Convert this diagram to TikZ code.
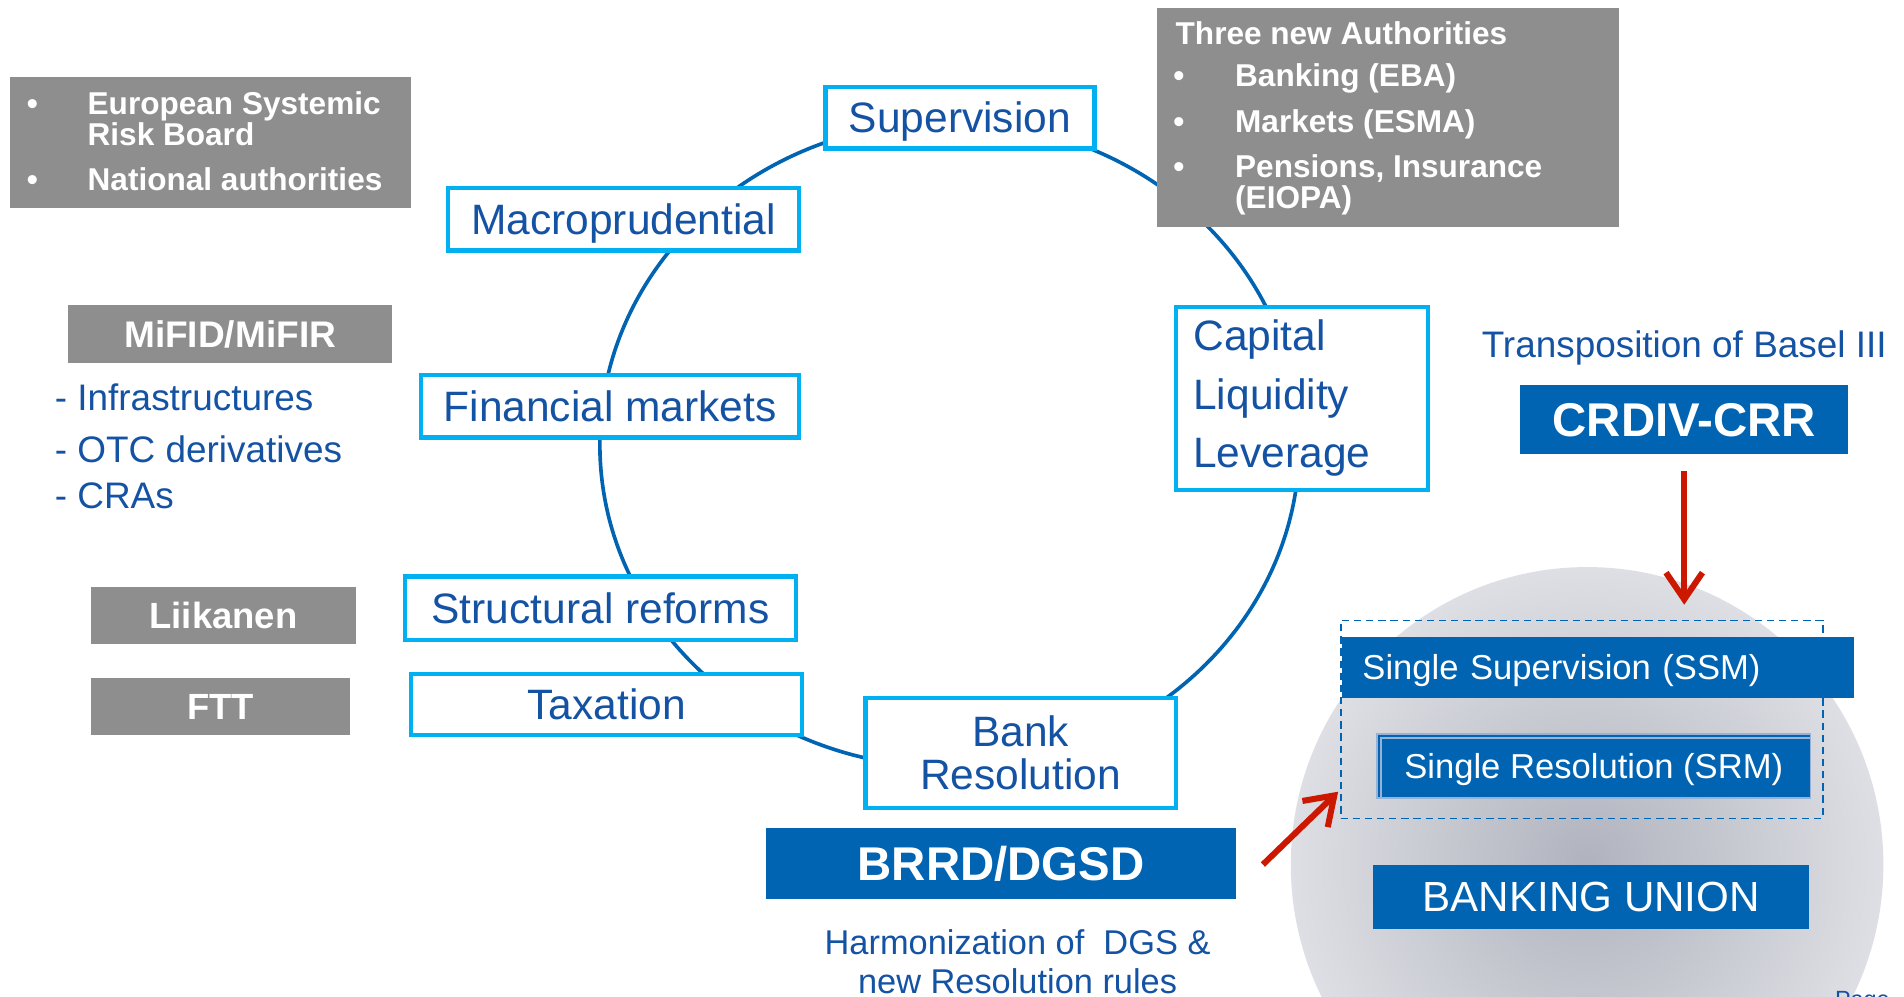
\documentclass[tikz,border=0pt]{standalone}
\usepackage{fontspec}
\setmainfont{Liberation Sans}
\usetikzlibrary{arrows.meta}
\definecolor{cyanb}{RGB}{0,176,240}
\definecolor{txtblue}{RGB}{20,82,163}
\definecolor{darkb}{RGB}{0,100,178}
\definecolor{greyb}{RGB}{142,142,142}
\definecolor{redarr}{RGB}{204,24,0}
\definecolor{buin}{RGB}{176,179,190}
\definecolor{buout}{RGB}{222,223,228}
\definecolor{srmedge}{RGB}{150,178,215}
\begin{document}
\begin{tikzpicture}[x=1pt,y=-1pt,
  cbox/.style={draw=cyanb, line width=3.5pt, fill=white, text=txtblue, inner sep=0pt, font=\fontsize{35}{40}\selectfont},
  capc/.style={text height=#1, text depth=0pt},
  dbox/.style={fill=darkb, text=white, inner sep=0pt},
  gbox/.style={fill=greyb, text=white, inner sep=0pt},
  gtxt/.style={text=white, font=\bfseries\fontsize{26}{28}\selectfont, inner sep=0pt, anchor=base west},
  btxt/.style={text=txtblue, inner sep=0pt},
  redarrow/.style={draw=redarr, line width=5pt, -{Straight Barb[length=22pt,width=30pt]}}
]
\fill[white] (0,0) rectangle (1568,821);
\useasboundingbox (0,0) rectangle (1568,821);

% banking union disc
\shade[inner color=buin, outer color=buout] (1307,712) ellipse [x radius=244, y radius=245];

% main cycle
\draw[darkb, line width=3pt] (782,366) ellipse [x radius=288, y radius=266];

% grey info boxes
\node[gbox, minimum width=330, minimum height=108, anchor=north west] (esrb) at (8,63) {};
\node[gtxt] (esrbb1) at (22,94) {•};
\node[gtxt] (esrb1) at (72,94) {European Systemic};
\node[gtxt] (esrb2) at (72,120) {Risk Board};
\node[gtxt] (esrbb2) at (22,157) {•};
\node[gtxt] (esrb3) at (72,157) {National authorities};

\node[gbox, minimum width=380, minimum height=181, anchor=north west] (three) at (953,6) {};
\node[gtxt] (three0) at (968,37) {Three new Authorities};
\node[gtxt] (threeb1) at (966,71) {•};
\node[gtxt] (three1) at (1017,71) {Banking (EBA)};
\node[gtxt] (threeb2) at (966,109) {•};
\node[gtxt] (three2) at (1017,109) {Markets (ESMA)};
\node[gtxt] (threeb3) at (966,146) {•};
\node[gtxt] (three3) at (1017,146) {Pensions, Insurance};
\node[gtxt] (three4) at (1017,172) {(EIOPA)};

\node[gbox, capc=22pt, minimum width=267, minimum height=48, font=\bfseries\fontsize{30.5}{32}\selectfont] (mifid) at (189.5,275) {MiFID/MiFIR};
\node[btxt, anchor=base west, font=\fontsize{30.4}{32}\selectfont] (l1) at (45,338) {- Infrastructures};
\node[btxt, anchor=base west, font=\fontsize{30.4}{32}\selectfont] (l2) at (45,381) {- OTC derivatives};
\node[btxt, anchor=base west, font=\fontsize{30.4}{32}\selectfont] (l3) at (45,419) {- CRAs};
\node[gbox, capc=21.5pt, minimum width=218, minimum height=47, font=\bfseries\fontsize{30}{32}\selectfont] (liik) at (184,506.5) {Liikanen};
\node[gbox, capc=21.5pt, minimum width=213, minimum height=47, font=\bfseries\fontsize{30}{32}\selectfont] (ftt) at (181.5,581.5) {FTT};

% cycle boxes
\node[cbox, capc=25pt, minimum width=221.5, minimum height=50.5] (sup) at (790.5,97) {Supervision};
\node[cbox, capc=25pt, minimum width=289.5, minimum height=51.5] (mac) at (513.5,180.5) {Macroprudential};
\node[cbox, capc=25pt, minimum width=311.5, minimum height=51.5] (fin) at (502.5,334.5) {Financial markets};
\node[cbox, capc=25pt, minimum width=321.5, minimum height=52.5] (str) at (494.5,501) {Structural reforms};
\node[cbox, capc=25pt, minimum width=321.5, minimum height=50.5] (tax) at (499.5,580) {Taxation};
\node[cbox, minimum width=255.5, minimum height=90.5, align=center, font=\fontsize{35}{36}\selectfont] (bank) at (840.5,620) {Bank\\ Resolution};
\node[cbox, minimum width=207.5, minimum height=150.5, text width=179.5, inner xsep=14, align=left, font=\fontsize{35}{48}\selectfont] (cap) at (1072.5,328) {Capital\\ Liquidity\\ Leverage};

% right side
\node[btxt, capc=22pt, font=\fontsize{30.4}{32}\selectfont] (basel) at (1387,283) {Transposition of Basel III};
\node[dbox, capc=28pt, minimum width=270, minimum height=57, font=\bfseries\fontsize{39}{40}\selectfont] (crdiv) at (1387,345.5) {CRDIV-CRR};

\node[draw=darkb, dashed, dash pattern=on 6pt off 4pt, line width=1.5pt, minimum width=397, minimum height=163, inner sep=0pt] (ssmgrp) at (1302.5,592.5) {};
\node[dbox, capc=20.5pt, minimum width=422, minimum height=50, text width=388, inner xsep=17, align=left, font=\fontsize{28.5}{30}\selectfont] (ssm) at (1316,549.5) {Single Supervision (SSM)};
\node[dbox, capc=20.5pt, draw=srmedge, line width=1.5pt, minimum width=357, minimum height=53, font=\fontsize{28.5}{30}\selectfont] (srm) at (1312.5,631) {Single Resolution (SRM)};
\draw[srmedge, line width=1pt] ([xshift=4pt,yshift=1pt]srm.south west) -- ([xshift=4pt,yshift=-4pt]srm.north west) -- ([xshift=-1pt,yshift=-4pt]srm.north east);
\node[dbox, capc=25pt, minimum width=359, minimum height=53, font=\fontsize{34.7}{36}\selectfont] (bu) at (1310.5,738.5) {BANKING UNION};

% bottom centre
\node[dbox, capc=28pt, minimum width=387, minimum height=58, font=\bfseries\fontsize{39}{40}\selectfont] (brrd) at (824.5,711) {BRRD/DGSD};
\node[btxt, align=center, font=\fontsize{28.3}{32}\selectfont] (harm) at (838,792) {Harmonization of \ DGS \&\\ new Resolution rules};
\node[btxt, anchor=base west, font=\fontsize{19.3}{20}\selectfont] (page) at (1511,830) {Page};

% red arrows
\coordinate (a1end) at (1387,498);
\draw[redarrow, shorten <=14pt] (crdiv.south) -- (a1end);
\coordinate (a2start) at (1040,712);
\coordinate (a2end) at (1102,652);
\draw[redarrow] (a2start) -- (a2end);
\end{tikzpicture}
\end{document}
